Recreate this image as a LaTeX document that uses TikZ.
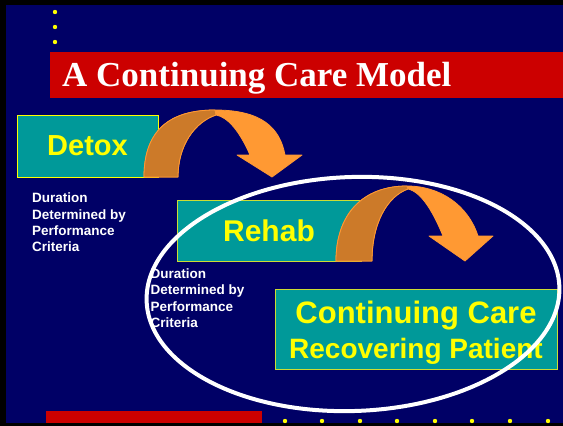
\documentclass[tikz,border=0pt]{standalone}
\usepackage{fontspec}
\setmainfont{Liberation Sans}
\newfontfamily\titlefont{Liberation Serif}
\definecolor{navy}{RGB}{0,0,102}
\definecolor{titlered}{RGB}{204,0,0}
\definecolor{boxteal}{RGB}{0,153,153}
\definecolor{boxedge}{RGB}{204,221,51}
\definecolor{txtyellow}{RGB}{255,255,0}
\definecolor{orangeL}{RGB}{255,153,51}
\definecolor{orangeD}{RGB}{204,122,41}
\tikzset{
  tealbox/.style={fill=boxteal, draw=boxedge, line width=1pt, inner sep=0pt, text=txtyellow},
  bigtext/.style={font=\bfseries\fontsize{#1}{#1}\selectfont},
  durtext/.style={font=\bfseries\fontsize{13.5}{16}\selectfont, text=white, anchor=base west, inner sep=0pt},
  arrowlight/.style={fill=orangeL, draw=orangeL, line width=0.8pt, line join=round},
  arrowdark/.style={fill=orangeD, draw=orangeL, line width=0.8pt, line join=round},
  yellowdot/.style={fill=txtyellow}
}
\begin{document}
\begin{tikzpicture}[x=1pt,y=-1pt]
\useasboundingbox (0,0) rectangle (563,426);
\fill[black] (0,0) rectangle (563,426);
\fill[navy] (6,5) rectangle (563,423);
% top dots
\foreach \yy in {12,27,42} \fill[yellowdot] (55,\yy) circle[radius=2.2pt];
% bottom dots
\foreach \xx in {285,322,360,397,435,472,510,548} \fill[yellowdot] (\xx,421) circle[radius=2.2pt];
% title bar
\fill[titlered] (50,52) rectangle (563,98);
\node[anchor=base west, inner sep=0pt, text=white, font=\titlefont\bfseries\fontsize{35}{40}\selectfont] (title) at (62,86) {A Continuing Care Model};
% bottom red bar
\fill[titlered] (46,411) rectangle (262,423);
% boxes
\node[tealbox, draw=txtyellow, minimum width=141pt, minimum height=62pt, bigtext=29] (detox) at (87.5,146) {Detox};
\node[tealbox, minimum width=184pt, minimum height=61pt, bigtext=30] (rehab) at (269,230.5) {Rehab};
\node[tealbox, minimum width=282pt, minimum height=80pt] (cont) at (416,329) {};
\node[anchor=base, inner sep=0pt, text=txtyellow, bigtext=31] (cont1) at (416,323) {Continuing Care};
\node[anchor=base, inner sep=0pt, text=txtyellow, bigtext=28] (cont2) at (416,358) {Recovering Patient};
% duration texts
\node[durtext] (da1) at (32,202.7) {Duration};
\node[durtext] (da2) at (32,219) {Determined by};
\node[durtext] (da3) at (32,235.4) {Performance};
\node[durtext] (da4) at (32,251.7) {Criteria};
\node[durtext] (db1) at (150.5,278.3) {Duration};
\node[durtext] (db2) at (150.5,294.8) {Determined by};
\node[durtext] (db3) at (150.5,311) {Performance};
\node[durtext] (db4) at (150.5,327.3) {Criteria};
% arrow 1
\path[arrowlight] (144,177) .. controls (144,130) and (170,110) .. (215,110)
  .. controls (262,110) and (280,128) .. (285,155) -- (302,155) -- (272,177) -- (237,155) -- (250,155)
  .. controls (240,132) and (228,117) .. (216,115)
  .. controls (195,122) and (178,145) .. (178,177) -- cycle;
\path[arrowdark] (144,177) .. controls (144,130) and (170,110) .. (215,110) -- (216,115)
  .. controls (195,122) and (178,145) .. (178,177) -- cycle;
% arrow 2
\path[arrowlight] (336,261) .. controls (336,215) and (362,186) .. (407,186)
  .. controls (440,186) and (468,205) .. (478,236) -- (493,236) -- (465,261) -- (429,236) -- (443,236)
  .. controls (434,214) and (422,192) .. (408,189)
  .. controls (388,196) and (372,222) .. (372,261) -- cycle;
\path[arrowdark] (336,261) .. controls (336,215) and (362,186) .. (407,186) -- (408,189)
  .. controls (388,196) and (372,222) .. (372,261) -- cycle;
% ellipse
\draw[white, line width=4pt, rotate around={2:(353,294)}] (353,294) ellipse [x radius=206.5pt, y radius=117pt];
\end{tikzpicture}
\end{document}
